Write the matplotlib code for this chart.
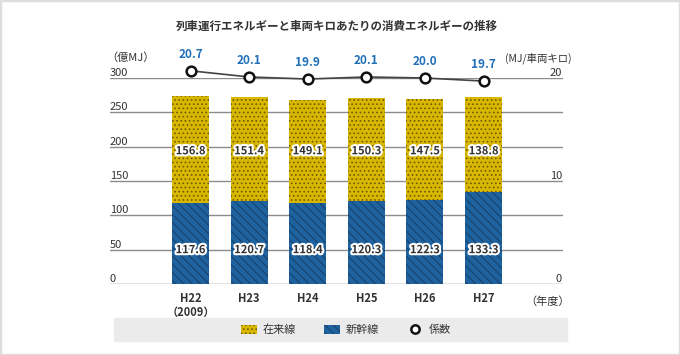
import numpy as np
import matplotlib.pyplot as plt
import matplotlib.patheffects as pe
from matplotlib.patches import Rectangle, Patch
from matplotlib.lines import Line2D

plt.rcParams['font.family'] = ['Noto Sans CJK JP', 'DejaVu Sans']
plt.rcParams['hatch.linewidth'] = 0.7

# データ
years = ['H22\n（2009）', 'H23', 'H24', 'H25', 'H26', 'H27']
shinkansen = [117.6, 120.7, 118.4, 120.3, 122.3, 133.3]   # 新幹線（億MJ）
zairaisen = [156.8, 151.4, 149.1, 150.3, 147.5, 138.8]    # 在来線（億MJ）
keisu = [20.7, 20.1, 19.9, 20.1, 20.0, 19.7]              # MJ/車両キロ
left_ticks = [0, 50, 100, 150, 200, 250, 300]
right_ticks = [0, 10, 20]

yellow = '#d9b700'
yellow_dot = '#6e5d00'
blue = '#1f62a0'
blue_hatch = '#163f68'
grid_c = '#8c8c8c'
txt_c = '#333333'
num_blue = '#1f6fb8'
h_blue = '\\\\\\\\'
h_yel = '....'

fig = plt.figure(figsize=(6.8, 3.55), dpi=100)
ax = fig.add_axes([110 / 680, 1 - 284 / 355, 453 / 680, 206 / 355])
ax2 = ax.twinx()

x = np.arange(len(years))
w = 0.63

ax.bar(x, shinkansen, w, color=blue, edgecolor=blue_hatch, hatch=h_blue, linewidth=0, zorder=3)
ax.bar(x, zairaisen, w, bottom=shinkansen, color=yellow, edgecolor=yellow_dot,
       hatch=h_yel, linewidth=0, zorder=3)

ax.set_ylim(0, 300)
ax.set_xlim(-1.374, 6.356)

# 目盛り線
for v in left_ticks:
    ax.axhline(v, color='#7a6c64' if v == 0 else grid_c, lw=1.0, zorder=1)
    ax.text(0.0, v, str(v), transform=ax.get_yaxis_transform(), ha='left', va='bottom',
            fontsize=8, color=txt_c)

ax2.set_ylim(0, 20)
for v in right_ticks:
    ax2.text(0.998, v, str(v), transform=ax2.get_yaxis_transform(), ha='right', va='bottom',
             fontsize=8, color=txt_c)

# 棒グラフの数値
stroke = [pe.withStroke(linewidth=3, foreground='white')]
for xi, s, z in zip(x, shinkansen, zairaisen):
    ax.text(xi, 50, f'{s:.1f}', ha='center', va='center', fontsize=8, fontweight='bold',
            color=txt_c, path_effects=stroke, zorder=5)
    ax.text(xi, 194, f'{z:.1f}', ha='center', va='center', fontsize=8, fontweight='bold',
            color=txt_c, path_effects=stroke, zorder=5)

# 係数
ax2.plot(x, keisu, color='#444444', lw=1.2, marker='o', ms=7, mfc='white', mec='#111111',
         mew=1.8, clip_on=False, zorder=6)
for xi, k in zip(x, keisu):
    ax2.annotate(f'{k:.1f}', (xi, k), xytext=(0, 7), textcoords='offset points',
                 ha='center', va='bottom', fontsize=8.5, fontweight='bold', color=num_blue,
                 annotation_clip=False)

for a in (ax, ax2):
    for sp in a.spines.values():
        sp.set_visible(False)
    a.set_yticks([])
ax.set_xticks(x)
ax.set_xticklabels(years, fontsize=8, fontweight='bold', color=txt_c, linespacing=1.1)
ax.tick_params(axis='x', length=0, pad=6)

fig.text(106 / 680, 1 - 58 / 355, '（億MJ）', ha='left', va='center', fontsize=8, color=txt_c)
fig.text(572 / 680, 1 - 58 / 355, '(MJ/車両キロ)', ha='right', va='center', fontsize=7.5, color=txt_c)
fig.text(570 / 680, 1 - 302 / 355, '（年度）', ha='right', va='center', fontsize=8, color=txt_c)

fig.text(337 / 680, 1 - 26 / 355, '列車運行エネルギーと車両キロあたりの消費エネルギーの推移',
         ha='center', va='center', fontsize=8.3, fontweight='bold', color=txt_c)

# 凡例
fig.patches.append(Rectangle((114 / 680, 1 - 341 / 355), 453 / 680, 23 / 355,
                             transform=fig.transFigure, color='#ebebeb', zorder=0))
handles = [
    Patch(facecolor=yellow, edgecolor=yellow_dot, hatch=h_yel, linewidth=0, label='在来線'),
    Patch(facecolor=blue, edgecolor=blue_hatch, hatch=h_blue, linewidth=0, label='新幹線'),
    Line2D([], [], ls='none', marker='o', ms=6, mfc='white', mec='#111111', mew=1.8, label='係数'),
]
leg = fig.legend(handles=handles, loc='center', bbox_to_anchor=(346 / 680, 1 - 330 / 355), ncol=3,
                 frameon=False, fontsize=8, handlelength=1.4, handleheight=0.8,
                 columnspacing=2.6, handletextpad=0.5)
for t in leg.get_texts():
    t.set_color(txt_c)

# 外枠
fig.patches.append(Rectangle((0, 0), 1, 1, transform=fig.transFigure, fill=False,
                             edgecolor='#dddddd', lw=2.5, zorder=10))

fig.savefig('out.png', dpi=100)
